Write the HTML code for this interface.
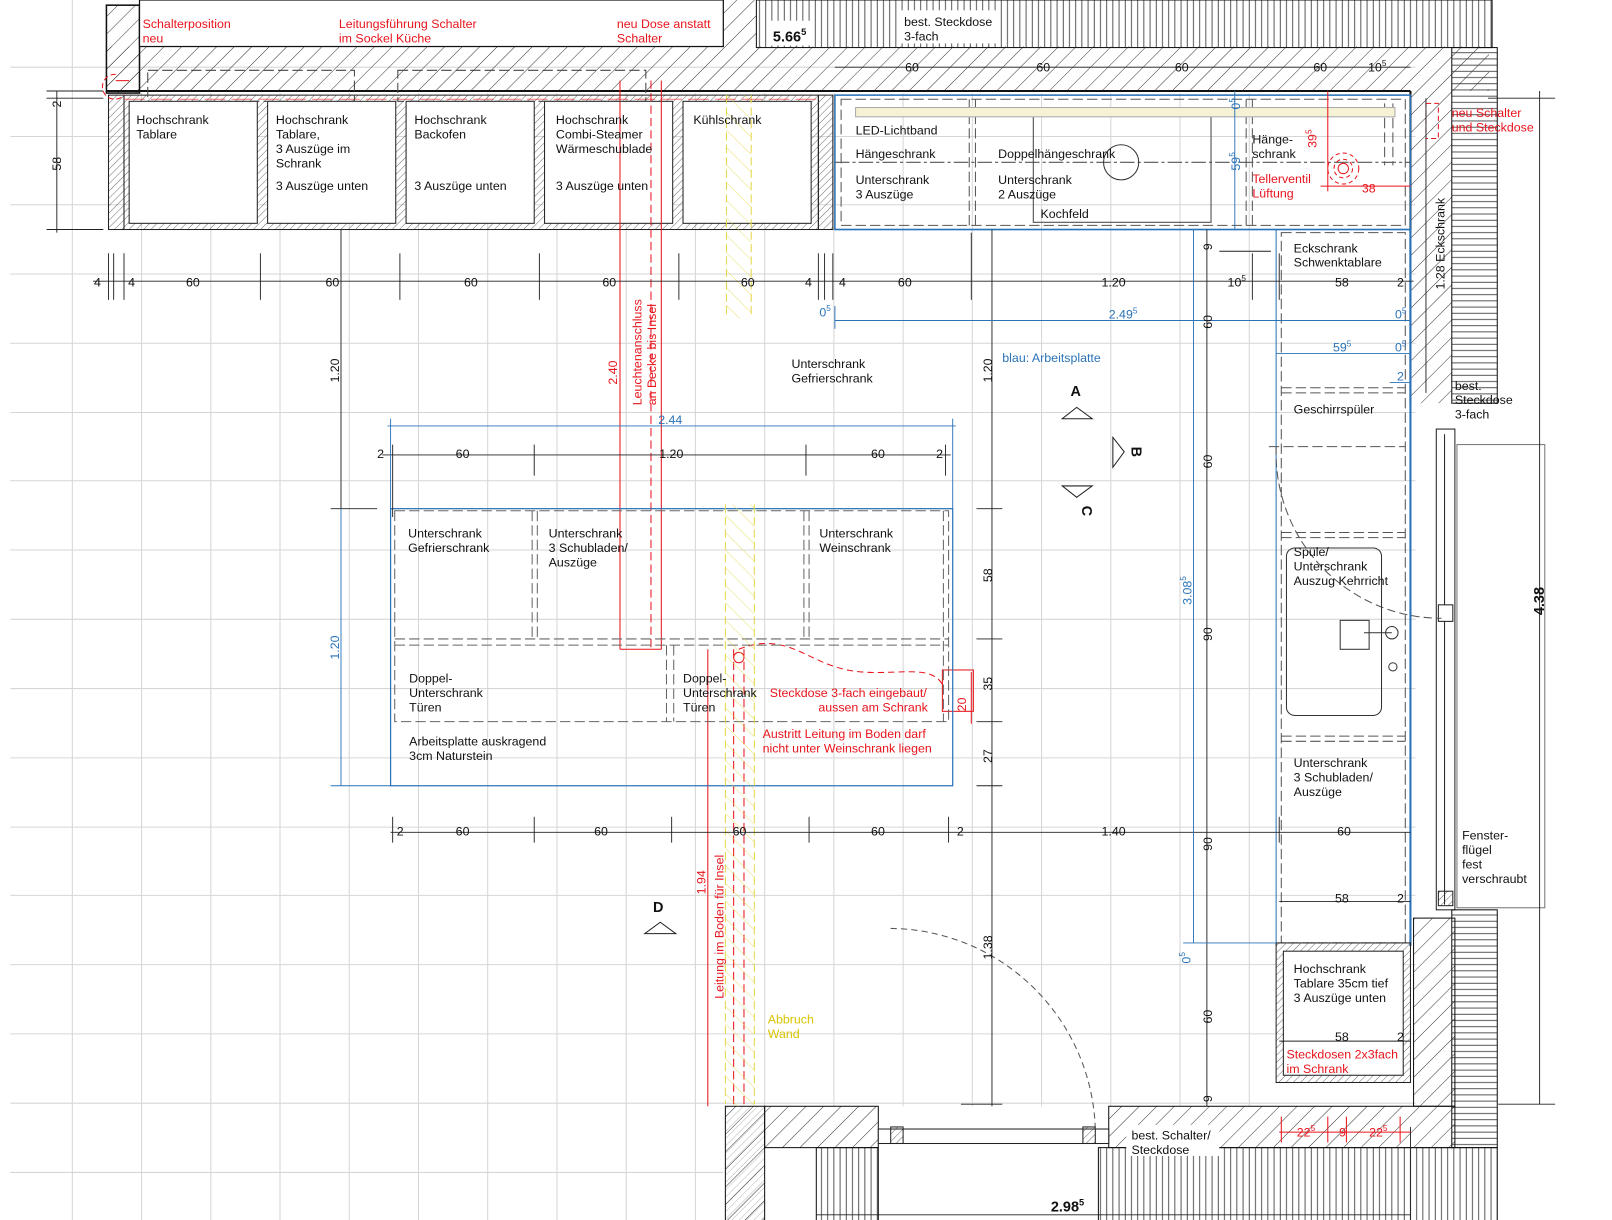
<!DOCTYPE html>
<html><head><meta charset="utf-8"><style>
html,body{margin:0;padding:0;background:#fff;width:1612px;height:1220px;overflow:hidden}
svg{display:block}
text{font-family:"Liberation Sans",sans-serif;font-size:12px;fill:#111}
.r{fill:#e8141c}.b{fill:#2a73b8}.y{fill:#d9c400}
</style></head><body>
<svg width="1612" height="1220" viewBox="0 0 1612 1220" xmlns="http://www.w3.org/2000/svg">
<defs>
<pattern id="dg" width="12" height="12" patternUnits="userSpaceOnUse" patternTransform="rotate(45)"><line x1="0" y1="0" x2="0" y2="12" stroke="#222" stroke-width="0.9"/></pattern>
<pattern id="dgs" width="5" height="5" patternUnits="userSpaceOnUse" patternTransform="rotate(45)"><line x1="0" y1="0" x2="0" y2="5" stroke="#333" stroke-width="0.7"/></pattern>
<pattern id="vt" width="6" height="6" patternUnits="userSpaceOnUse"><line x1="3" y1="0" x2="3" y2="6" stroke="#333" stroke-width="0.8"/></pattern>
<pattern id="hz" width="6" height="6" patternUnits="userSpaceOnUse"><line x1="0" y1="3" x2="6" y2="3" stroke="#333" stroke-width="0.8"/></pattern>
<pattern id="yl" width="12" height="12" patternUnits="userSpaceOnUse" patternTransform="rotate(-45)"><line x1="0" y1="0" x2="0" y2="12" stroke="#e5d84a" stroke-width="1"/></pattern>
</defs>
<g transform="scale(1.0333,1.0339)">
<!-- tile grid -->
<g stroke="#d6d6d6" stroke-width="1">
<line x1="10" y1="65" x2="1370" y2="65"/><line x1="10" y1="132" x2="1370" y2="132"/><line x1="10" y1="198" x2="1370" y2="198"/><line x1="10" y1="265" x2="1370" y2="265"/><line x1="10" y1="332" x2="1370" y2="332"/><line x1="10" y1="399" x2="1370" y2="399"/><line x1="10" y1="465" x2="1370" y2="465"/><line x1="10" y1="532" x2="1370" y2="532"/><line x1="10" y1="599" x2="1370" y2="599"/><line x1="10" y1="666" x2="1370" y2="666"/><line x1="10" y1="733" x2="1370" y2="733"/><line x1="10" y1="800" x2="1370" y2="800"/><line x1="10" y1="866" x2="1370" y2="866"/><line x1="10" y1="933" x2="1370" y2="933"/><line x1="10" y1="1000" x2="1370" y2="1000"/><line x1="10" y1="1067" x2="1370" y2="1067"/><line x1="10" y1="1134" x2="700" y2="1134"/>
<line x1="70" y1="0" x2="70" y2="1190"/><line x1="137" y1="90" x2="137" y2="1190"/><line x1="204" y1="90" x2="204" y2="1190"/><line x1="271" y1="90" x2="271" y2="1190"/><line x1="338" y1="90" x2="338" y2="1190"/><line x1="405" y1="90" x2="405" y2="1190"/><line x1="472" y1="90" x2="472" y2="1190"/><line x1="539" y1="90" x2="539" y2="1190"/><line x1="606" y1="90" x2="606" y2="1190"/><line x1="673" y1="90" x2="673" y2="1190"/><line x1="740" y1="90" x2="740" y2="1070"/><line x1="807" y1="90" x2="807" y2="1070"/><line x1="874" y1="90" x2="874" y2="1070"/><line x1="941" y1="90" x2="941" y2="1070"/><line x1="1008" y1="90" x2="1008" y2="1070"/><line x1="1075" y1="90" x2="1075" y2="1070"/><line x1="1142" y1="90" x2="1142" y2="1070"/><line x1="1209" y1="90" x2="1209" y2="1070"/>
</g>
<!-- walls -->
<rect x="103" y="5" width="32" height="85" fill="url(#dg)" stroke="#111" stroke-width="1.5"/>
<rect x="135" y="0" width="565" height="45" fill="#fff" stroke="#111" stroke-width="1.2"/>
<rect x="700" y="0" width="32" height="45" fill="url(#dg)"/>
<rect x="732" y="0" width="712" height="46" fill="url(#vt)" stroke="#111"/>
<rect x="103" y="45" width="1338" height="43" fill="url(#dg)"/>
<line x1="103" y1="88" x2="1365" y2="88" stroke="#111" stroke-width="2"/>
<rect x="745" y="20" width="42" height="24" fill="#fff"/>
<rect x="872" y="10" width="92" height="32" fill="#fff"/>
<rect x="1365" y="88" width="40" height="302" fill="url(#dg)"/>
<rect x="1405" y="46" width="44" height="344" fill="url(#hz)" stroke="#111"/>
<line x1="1365" y1="88" x2="1365" y2="390" stroke="#111" stroke-width="2"/>
<rect x="1410" y="430" width="85" height="448" fill="#fff" stroke="#777"/>
<rect x="1390" y="415" width="18" height="465" fill="#fff" stroke="#222"/>
<line x1="1398" y1="420" x2="1398" y2="875" stroke="#222"/>
<rect x="1392" y="585" width="14" height="16" fill="#fff" stroke="#222"/>
<rect x="1392" y="862" width="14" height="14" fill="url(#dgs)" stroke="#222"/>
<rect x="1405" y="880" width="44" height="230" fill="url(#hz)" stroke="#111"/>
<rect x="1368" y="888" width="40" height="182" fill="url(#dg)" stroke="#111"/>
<rect x="1073" y="1070" width="335" height="40" fill="url(#dg)" stroke="#111"/>
<rect x="1063" y="1110" width="386" height="80" fill="url(#vt)" stroke="#111"/>
<rect x="1090" y="1088" width="90" height="30" fill="#fff"/>
<rect x="702" y="1070" width="38" height="120" fill="url(#dg)" stroke="#111"/>
<rect x="702" y="1070" width="38" height="120" fill="url(#dgs)" opacity="0.5"/>
<rect x="740" y="1070" width="110" height="40" fill="url(#dg)" stroke="#111"/>
<rect x="790" y="1110" width="60" height="80" fill="url(#vt)" stroke="#111"/>
<rect x="850" y="1092" width="223" height="14" fill="#fff" stroke="#222"/>
<rect x="862" y="1090" width="12" height="16" fill="url(#dgs)" stroke="#222"/>
<rect x="1048" y="1090" width="12" height="16" fill="url(#dgs)" stroke="#222"/>
<path d="M862,898 A200,200 0 0 1 1060,1092" fill="none" stroke="#555" stroke-dasharray="6,4"/>
<!-- top tall cabinets -->
<g stroke="#222" fill="#fff">
<rect x="105" y="92" width="15" height="130" fill="url(#dgs)"/>
<rect x="120" y="92" width="672" height="130" fill="url(#dgs)"/>
<rect x="125" y="98" width="124" height="118"/><rect x="259" y="98" width="124" height="118"/><rect x="393" y="98" width="124" height="118"/><rect x="527" y="98" width="124" height="118"/><rect x="661" y="98" width="124" height="118"/>
<rect x="792" y="92" width="14" height="130" fill="url(#dgs)"/>
</g>
<!-- yellow / red lines in top -->
<rect x="703" y="92" width="24" height="216" fill="url(#yl)" opacity="0.8"/>
<g stroke="#e5d84a" stroke-dasharray="8,4" fill="none"><line x1="703" y1="92" x2="703" y2="308"/><line x1="727" y1="92" x2="727" y2="308"/></g>
<g stroke="#e8141c" fill="none">
<line x1="600" y1="78" x2="600" y2="628"/><line x1="640" y1="78" x2="640" y2="628"/>
<line x1="630" y1="78" x2="630" y2="628" stroke-dasharray="8,4"/>
<line x1="600" y1="628" x2="640" y2="628"/>
<line x1="685" y1="628" x2="685" y2="1070"/>
<line x1="710" y1="628" x2="710" y2="1070" stroke-dasharray="8,4"/>
<line x1="720" y1="628" x2="720" y2="1070" stroke-dasharray="8,4"/>
<path d="M715,628 C760,610 780,640 820,648 C860,656 900,640 912,662" stroke-dasharray="6,4"/>
<circle cx="715" cy="636" r="5"/>
<path d="M112,72 a12,12 0 1 0 8,20" stroke-dasharray="5,3"/>
<line x1="112" y1="78" x2="125" y2="78"/>
<line x1="383" y1="96" x2="383" y2="96"/>
<line x1="120" y1="96" x2="790" y2="96" stroke-dasharray="20,6" opacity="0.6"/>
<rect x="1380" y="100" width="12" height="34" stroke-dasharray="5,3"/>
<rect x="912" y="648" width="30" height="40"/>
</g>
<g stroke="#444" stroke-dasharray="10,4" fill="none"><rect x="143" y="68" width="200" height="30"/><rect x="385" y="68" width="240" height="30"/></g>
<!-- right upper cabinets -->
<g fill="none">
<rect x="808" y="92" width="557" height="130" stroke="#2a73b8" stroke-width="1.5"/>
<rect x="814" y="96" width="546" height="122" stroke="#555" stroke-dasharray="10,4"/>
<g stroke="#555" stroke-dasharray="10,4"><line x1="938" y1="96" x2="938" y2="218"/><line x1="944" y1="96" x2="944" y2="218"/><line x1="1206" y1="96" x2="1206" y2="218"/><line x1="1212" y1="96" x2="1212" y2="218"/><line x1="1340" y1="100" x2="1340" y2="160"/><line x1="1348" y1="100" x2="1348" y2="160"/></g>
<line x1="808" y1="157" x2="1365" y2="157" stroke="#555" stroke-dasharray="14,3,3,3"/>
<rect x="1000" y="108" width="172" height="107" stroke="#444"/>
<circle cx="1085" cy="157" r="17" stroke="#333"/>
</g>
<rect x="828" y="104" width="522" height="9" fill="#f6f2d6" stroke="#aaa"/>
<g stroke="#e8141c" fill="none" stroke-dasharray="4,3"><circle cx="1300" cy="163" r="15"/><circle cx="1300" cy="163" r="9"/><circle cx="1300" cy="163" r="5" stroke-dasharray="none"/></g>
<g stroke="#e8141c" fill="none"><line x1="1285" y1="88" x2="1285" y2="185"/><line x1="1278" y1="180" x2="1365" y2="180"/></g>
<!-- right column -->
<g fill="none">
<line x1="808" y1="222" x2="1365" y2="222" stroke="#2a73b8" stroke-width="1.2"/>
<line x1="1365" y1="222" x2="1365" y2="915" stroke="#2a73b8" stroke-width="2"/>
<line x1="1235" y1="222" x2="1235" y2="915" stroke="#2a73b8"/>
<rect x="1240" y="225" width="120" height="687" stroke="#555" stroke-dasharray="10,4"/>
<g stroke="#555" stroke-dasharray="10,4"><line x1="1240" y1="375" x2="1360" y2="375"/><line x1="1240" y1="380" x2="1360" y2="380"/><line x1="1228" y1="432" x2="1360" y2="432"/><line x1="1240" y1="515" x2="1360" y2="515"/><line x1="1240" y1="520" x2="1360" y2="520"/><line x1="1240" y1="712" x2="1360" y2="712"/><line x1="1240" y1="717" x2="1360" y2="717"/></g>
<path d="M1235,432 A160,160 0 0 0 1395,598" stroke="#555" stroke-dasharray="8,4"/>
<rect x="1245" y="530" width="92" height="162" rx="8" stroke="#333"/>
<rect x="1297" y="600" width="28" height="28" stroke="#333"/>
<circle cx="1347" cy="612" r="6" stroke="#333"/><circle cx="1348" cy="645" r="4" stroke="#333"/>
<line x1="1320" y1="612" x2="1347" y2="612" stroke="#333"/>
</g>
<rect x="1235" y="912" width="130" height="135" fill="url(#dgs)" stroke="#222"/>
<rect x="1242" y="920" width="116" height="120" fill="#fff" stroke="#222"/>
<!-- island -->
<g fill="none">
<rect x="378" y="492" width="544" height="268" stroke="#2a73b8" stroke-width="1.2"/>
<g stroke="#666" stroke-dasharray="10,4">
<rect x="382" y="494" width="536" height="204"/>
<line x1="382" y1="618" x2="918" y2="618"/><line x1="382" y1="624" x2="918" y2="624"/>
<line x1="515" y1="494" x2="515" y2="618"/><line x1="520" y1="494" x2="520" y2="618"/>
<line x1="778" y1="494" x2="778" y2="618"/><line x1="783" y1="494" x2="783" y2="618"/>
<line x1="645" y1="624" x2="645" y2="698"/><line x1="652" y1="624" x2="652" y2="698"/>
<line x1="913" y1="494" x2="913" y2="698"/>
</g></g>
<rect x="702" y="488" width="28" height="582" fill="url(#yl)" opacity="0.8"/>
<g stroke="#e5d84a" stroke-dasharray="8,4" fill="none"><line x1="702" y1="488" x2="702" y2="1068"/><line x1="730" y1="488" x2="730" y2="1068"/></g>
<!-- dimension lines -->
<g stroke="#222" stroke-width="0.9" fill="none">
<line x1="90" y1="272" x2="1368" y2="272"/>
<line x1="105" y1="245" x2="105" y2="290"/><line x1="110" y1="245" x2="110" y2="290"/><line x1="120" y1="245" x2="120" y2="290"/><line x1="252" y1="245" x2="252" y2="290"/><line x1="387" y1="245" x2="387" y2="290"/><line x1="522" y1="245" x2="522" y2="290"/><line x1="657" y1="245" x2="657" y2="290"/><line x1="792" y1="245" x2="792" y2="290"/><line x1="798" y1="245" x2="798" y2="290"/><line x1="806" y1="245" x2="806" y2="290"/><line x1="940" y1="225" x2="940" y2="290"/><line x1="1212" y1="245" x2="1212" y2="290"/><line x1="1238" y1="245" x2="1238" y2="290"/>
<line x1="808" y1="65" x2="1365" y2="65"/>
<line x1="55" y1="88" x2="55" y2="225"/><line x1="45" y1="88" x2="100" y2="88"/><line x1="45" y1="95" x2="100" y2="95"/><line x1="45" y1="222" x2="100" y2="222"/>
<line x1="330" y1="222" x2="330" y2="492"/><line x1="320" y1="492" x2="365" y2="492"/>
<line x1="370" y1="440" x2="920" y2="440"/><line x1="380" y1="430" x2="380" y2="500"/><line x1="517" y1="430" x2="517" y2="460"/><line x1="780" y1="430" x2="780" y2="460"/><line x1="915" y1="430" x2="915" y2="460"/>
<line x1="378" y1="805" x2="1365" y2="805"/><line x1="380" y1="790" x2="380" y2="815"/><line x1="517" y1="790" x2="517" y2="815"/><line x1="650" y1="790" x2="650" y2="815"/><line x1="783" y1="790" x2="783" y2="815"/><line x1="918" y1="790" x2="918" y2="815"/><line x1="1238" y1="790" x2="1238" y2="815"/>
<line x1="960" y1="222" x2="960" y2="1070"/>
<line x1="945" y1="492" x2="970" y2="492"/><line x1="945" y1="618" x2="970" y2="618"/><line x1="945" y1="698" x2="970" y2="698"/><line x1="945" y1="760" x2="970" y2="760"/><line x1="930" y1="1068" x2="970" y2="1068"/>
<line x1="1168" y1="222" x2="1168" y2="1070"/>
<line x1="1180" y1="243" x2="1230" y2="243"/><line x1="1238" y1="872" x2="1365" y2="872"/><line x1="1238" y1="1007" x2="1365" y2="1007"/>
<line x1="1490" y1="88" x2="1490" y2="1068"/><line x1="1440" y1="95" x2="1505" y2="95"/><line x1="1450" y1="1068" x2="1505" y2="1068"/>
<line x1="1380" y1="95" x2="1380" y2="380"/>
<line x1="790" y1="1175" x2="1365" y2="1175"/><line x1="1365" y1="1090" x2="1365" y2="1190"/>
</g>
<g stroke="#2a73b8" stroke-width="0.9" fill="none">
<line x1="808" y1="310" x2="1365" y2="310"/><line x1="808" y1="296" x2="808" y2="318"/>
<line x1="1235" y1="342" x2="1365" y2="342"/><line x1="1345" y1="370" x2="1365" y2="370"/>
<line x1="375" y1="412" x2="925" y2="412"/><line x1="378" y1="405" x2="378" y2="492"/><line x1="922" y1="405" x2="922" y2="492"/>
<line x1="330" y1="492" x2="330" y2="760"/><line x1="320" y1="760" x2="378" y2="760"/>
<line x1="1155" y1="222" x2="1155" y2="912"/><line x1="1145" y1="912" x2="1235" y2="912"/>
<line x1="1195" y1="88" x2="1195" y2="222"/>
</g>
<g stroke="#e8141c" fill="none"><line x1="1238" y1="1095" x2="1365" y2="1095"/><line x1="1240" y1="1080" x2="1240" y2="1105"/><line x1="1285" y1="1080" x2="1285" y2="1105"/><line x1="1303" y1="1080" x2="1303" y2="1105"/><line x1="1355" y1="1080" x2="1355" y2="1105"/><line x1="940" y1="650" x2="940" y2="700"/></g>
<!-- symbols -->
<g fill="#fff" stroke="#222"><path d="M1028,405 L1057,405 L1042,394 Z"/><path d="M1077,423 L1077,452 L1088,437 Z"/><path d="M1028,470 L1057,470 L1042,481 Z"/><path d="M624,903 L654,903 L639,892 Z"/></g>
<!-- texts -->
<text class="r" x="138" y="27">Schalterposition</text><text class="r" x="138" y="41">neu</text>
<text class="r" x="328" y="27">Leitungsführung Schalter</text><text class="r" x="328" y="41">im Sockel Küche</text>
<text class="r" x="597" y="27">neu Dose anstatt</text><text class="r" x="597" y="41">Schalter</text>
<text x="748" y="40" style="font-weight:bold;font-size:14px">5.66<tspan dy="-6" font-size="9">5</tspan></text>
<text x="875" y="25">best. Steckdose</text><text x="875" y="39">3-fach</text>
<text x="132" y="120">Hochschrank</text><text x="132" y="134">Tablare</text>
<text x="267" y="120">Hochschrank</text><text x="267" y="134">Tablare,</text><text x="267" y="148">3 Auszüge im</text><text x="267" y="162">Schrank</text><text x="267" y="184">3 Auszüge unten</text>
<text x="401" y="120">Hochschrank</text><text x="401" y="134">Backofen</text><text x="401" y="184">3 Auszüge unten</text>
<text x="538" y="120">Hochschrank</text><text x="538" y="134">Combi-Steamer</text><text x="538" y="148">Wärmeschublade</text><text x="538" y="184">3 Auszüge unten</text>
<text x="671" y="120">Kühlschrank</text>
<text x="828" y="130">LED-Lichtband</text><text x="828" y="153">Hängeschrank</text><text x="828" y="178">Unterschrank</text><text x="828" y="192">3 Auszüge</text>
<text x="966" y="153">Doppelhängeschrank</text><text x="966" y="178">Unterschrank</text><text x="966" y="192">2 Auszüge</text><text x="1007" y="211">Kochfeld</text>
<text x="1212" y="139">Hänge-</text><text x="1212" y="153">schrank</text>
<text class="r" x="1212" y="177">Tellerventil</text><text class="r" x="1212" y="191">Lüftung</text>
<text class="r" x="1318" y="186">38</text>
<text class="r" transform="translate(1274,143) rotate(-90)">39<tspan dy="-5" font-size="8">5</tspan></text>
<text class="r" x="1405" y="113">neu Schalter</text><text class="r" x="1405" y="127">und Steckdose</text>
<text x="876" y="69">60</text><text x="1003" y="69">60</text><text x="1137" y="69">60</text><text x="1271" y="69">60</text><text x="1324" y="69">10<tspan dy="-5" font-size="8">5</tspan></text>
<text transform="translate(59,104) rotate(-90)">2</text><text transform="translate(59,165) rotate(-90)">58</text>
<text x="91" y="277">4</text><text x="124" y="277">4</text><text x="180" y="277">60</text><text x="315" y="277">60</text><text x="449" y="277">60</text><text x="583" y="277">60</text><text x="717" y="277">60</text><text x="779" y="277">4</text><text x="812" y="277">4</text><text x="869" y="277">60</text><text x="1066" y="277">1.20</text><text x="1188" y="277">10<tspan dy="-5" font-size="8">5</tspan></text><text x="1292" y="277">58</text><text x="1352" y="277">2</text>
<text class="b" x="793" y="306">0<tspan dy="-5" font-size="8">5</tspan></text><text class="b" x="1073" y="308">2.49<tspan dy="-5" font-size="8">5</tspan></text><text class="b" x="1350" y="308">0<tspan dy="-5" font-size="8">5</tspan></text>
<text class="b" x="1290" y="340">59<tspan dy="-5" font-size="8">5</tspan></text><text class="b" x="1350" y="340">0<tspan dy="-5" font-size="8">5</tspan></text><text class="b" x="1352" y="368">2</text>
<text class="b" transform="translate(1200,165) rotate(-90)">59<tspan dy="-5" font-size="8">5</tspan></text>
<text class="b" transform="translate(1200,106) rotate(-90)">0<tspan dy="-5" font-size="8">5</tspan></text>
<text x="1252" y="244">Eckschrank</text><text x="1252" y="258">Schwenktablare</text>
<text transform="translate(1398,280) rotate(-90)">1.28 Eckschrank</text>
<text x="1408" y="377">best.</text><text x="1408" y="391">Steckdose</text><text x="1408" y="405">3-fach</text>
<text x="1252" y="400">Geschirrspüler</text>
<text x="1252" y="538">Spüle/</text><text x="1252" y="552">Unterschrank</text><text x="1252" y="566">Auszug Kehrricht</text>
<text x="1252" y="742">Unterschrank</text><text x="1252" y="756">3 Schubladen/</text><text x="1252" y="770">Auszüge</text>
<text x="1415" y="812">Fenster-</text><text x="1415" y="826">flügel</text><text x="1415" y="840">fest</text><text x="1415" y="854">verschraubt</text>
<text x="1292" y="873">58</text><text x="1352" y="873">2</text>
<text x="1252" y="941">Hochschrank</text><text x="1252" y="955">Tablare 35cm tief</text><text x="1252" y="969">3 Auszüge unten</text>
<text x="1292" y="1007">58</text><text x="1352" y="1007">2</text>
<text class="r" x="1245" y="1024">Steckdosen 2x3fach</text><text class="r" x="1245" y="1038">im Schrank</text>
<text class="r" x="1255" y="1099">22<tspan dy="-5" font-size="8">5</tspan></text><text class="r" x="1296" y="1099">9</text><text class="r" x="1325" y="1099">22<tspan dy="-5" font-size="8">5</tspan></text>
<text x="1095" y="1102">best. Schalter/</text><text x="1095" y="1116">Steckdose</text>
<text x="1017" y="1172" style="font-weight:bold;font-size:14px">2.98<tspan dy="-6" font-size="9">5</tspan></text>
<text transform="translate(1494,595) rotate(-90)" style="font-weight:bold;font-size:14px">4.38</text>
<text class="b" x="970" y="350">blau: Arbeitsplatte</text>
<text x="766" y="356">Unterschrank</text><text x="766" y="370">Gefrierschrank</text>
<text x="1036" y="383" style="font-weight:bold;font-size:14px">A</text>
<text transform="translate(1095,432) rotate(90)" style="font-weight:bold;font-size:14px">B</text>
<text transform="translate(1047,489) rotate(90)" style="font-weight:bold;font-size:14px">C</text>
<text x="632" y="882" style="font-weight:bold;font-size:14px">D</text>
<text transform="translate(328,370) rotate(-90)">1.20</text>
<text class="b" transform="translate(328,638) rotate(-90)">1.20</text>
<text class="b" x="637" y="410">2.44</text>
<text x="365" y="443">2</text><text x="441" y="443">60</text><text x="638" y="443">1.20</text><text x="843" y="443">60</text><text x="906" y="443">2</text>
<text class="r" transform="translate(597,372) rotate(-90)">2.40</text>
<text class="r" transform="translate(621,392) rotate(-90)">Leuchtenanschluss</text>
<text class="r" transform="translate(635,392) rotate(-90)">an Decke bis Insel</text>
<text x="395" y="520">Unterschrank</text><text x="395" y="534">Gefrierschrank</text>
<text x="531" y="520">Unterschrank</text><text x="531" y="534">3 Schubladen/</text><text x="531" y="548">Auszüge</text>
<text x="793" y="520">Unterschrank</text><text x="793" y="534">Weinschrank</text>
<text x="396" y="660">Doppel-</text><text x="396" y="674">Unterschrank</text><text x="396" y="688">Türen</text>
<text x="661" y="660">Doppel-</text><text x="661" y="674">Unterschrank</text><text x="661" y="688">Türen</text>
<text class="r" x="745" y="674">Steckdose 3-fach eingebaut/</text><text class="r" x="792" y="688">aussen am Schrank</text>
<text class="r" transform="translate(935,688) rotate(-90)">20</text>
<text x="396" y="721">Arbeitsplatte auskragend</text><text x="396" y="735">3cm Naturstein</text>
<text class="r" x="738" y="714">Austritt Leitung im Boden darf</text><text class="r" x="738" y="728">nicht unter Weinschrank liegen</text>
<text transform="translate(960,370) rotate(-90)">1.20</text><text transform="translate(960,563) rotate(-90)">58</text><text transform="translate(960,668) rotate(-90)">35</text><text transform="translate(960,738) rotate(-90)">27</text><text transform="translate(960,928) rotate(-90)">1.38</text>
<text transform="translate(1173,242) rotate(-90)">9</text><text transform="translate(1173,318) rotate(-90)">60</text><text transform="translate(1173,453) rotate(-90)">60</text><text transform="translate(1173,620) rotate(-90)">90</text><text transform="translate(1173,823) rotate(-90)">90</text><text transform="translate(1173,990) rotate(-90)">60</text><text transform="translate(1173,1066) rotate(-90)">9</text>
<text class="b" transform="translate(1153,585) rotate(-90)">3.08<tspan dy="-5" font-size="8">5</tspan></text>
<text class="b" transform="translate(1152,932) rotate(-90)">0<tspan dy="-5" font-size="8">5</tspan></text>
<text x="384" y="808">2</text><text x="441" y="808">60</text><text x="575" y="808">60</text><text x="709" y="808">60</text><text x="843" y="808">60</text><text x="926" y="808">2</text><text x="1066" y="808">1.40</text><text x="1294" y="808">60</text>
<text class="r" transform="translate(683,865) rotate(-90)">1.94</text>
<text class="r" transform="translate(700,966) rotate(-90)">Leitung im Boden für Insel</text>
<text class="y" x="743" y="990">Abbruch</text><text class="y" x="743" y="1004">Wand</text>
</g>
</svg>
</body></html>
